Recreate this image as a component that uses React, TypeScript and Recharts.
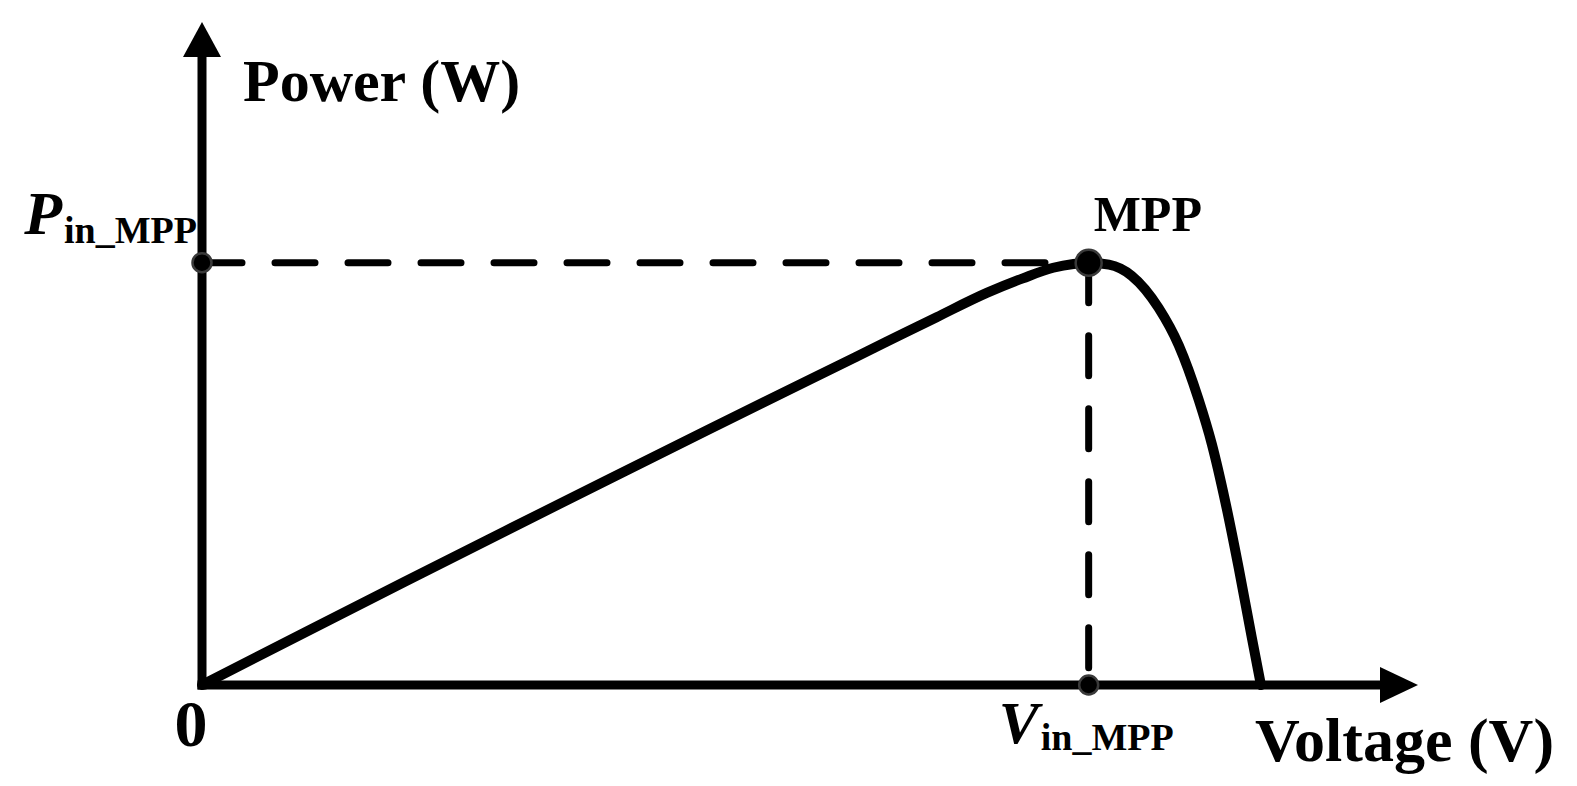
import React from 'react';
import { ComposedChart, Line, XAxis, YAxis, ReferenceLine, ReferenceDot } from 'recharts';

// P-V curve of the PV source (voltage in V, power in W)
const voltage = [0, 2, 4, 6, 8, 10, 12, 13.5, 14.5, 15.5, 16.2, 16.8, 17.2, 17.5, 17.9, 18.35, 18.88, 19.28, 19.67, 19.93, 20.2, 20.46, 20.72, 20.9];
const power = [0, 12.26, 24.44, 36.54, 48.56, 60.5, 72.36, 81.2, 87.1, 92.9, 96.3, 98.8, 99.7, 100, 99.55, 96.9, 89.3, 80.4, 67.6, 57.1, 43.2, 27.8, 11.2, 0];

const V_MPP = 17.5;
const P_MPP = 100;
const X_MAX = 24; // arrow tip of the voltage axis
const Y_MAX = 157; // arrow tip of the power axis
const X_AXIS_END = 23.25;
const Y_AXIS_END = 148.7;

const xLabel = 'Voltage (V)';
const yLabel = 'Power (W)';
const mppLabel = 'MPP';
const originLabel = '0';
const pLabelMain = 'P';
const vLabelMain = 'V';
const subLabel = 'in_MPP';

const data = voltage.map((v, i) => ({ v, p: power[i] }));

const FONT = '"Liberation Serif", "Times New Roman", Times, serif';

const ArrowRight = (props: any) => {
  const { cx, cy } = props;
  return <polygon points={`${cx},${cy} ${cx - 38},${cy - 18} ${cx - 38},${cy + 18}`} fill="#000" />;
};
const ArrowUp = (props: any) => {
  const { cx, cy } = props;
  return <polygon points={`${cx},${cy} ${cx - 19},${cy + 35} ${cx + 19},${cy + 35}`} fill="#000" />;
};

const textAt = (content: React.ReactNode, dx: number, dy: number, size: number, anchor: string = 'start', extra: any = {}) =>
  (props: any) => (
    <text
      x={props.cx + dx}
      y={props.cy + dy}
      fontFamily={FONT}
      fontWeight="bold"
      fontSize={size}
      textAnchor={anchor as any}
      fill="#000"
      {...extra}
    >
      {content}
    </text>
  );

const subLabelText = (main: string, mainSize: number, subDy: number) => (
  <>
    <tspan fontStyle="italic" fontSize={mainSize}>{main}</tspan>
    <tspan fontSize={38} dy={subDy} dx={2}>{subLabel}</tspan>
  </>
);

export default function App() {
  return (
    <div style={{ position: 'absolute', left: 0, top: 0, width: 1577, height: 786, background: '#fff', overflow: 'hidden' }}>
      <ComposedChart
        width={1577}
        height={786}
        data={data}
        margin={{ top: 22, right: 159, bottom: 101, left: 202 }}
      >
        <XAxis type="number" dataKey="v" domain={[0, X_MAX]} hide />
        <YAxis type="number" dataKey="p" domain={[0, Y_MAX]} hide />

        {/* dashed projections of the MPP */}
        <ReferenceLine
          segment={[{ x: 0, y: P_MPP }, { x: V_MPP, y: P_MPP }]}
          stroke="#000"
          strokeWidth={7}
          strokeDasharray="40 33"
          strokeLinecap="round"
          ifOverflow="visible"
        />
        <ReferenceLine
          segment={[{ x: V_MPP, y: P_MPP }, { x: V_MPP, y: 0 }]}
          stroke="#000"
          strokeWidth={7}
          strokeDasharray="40 33"
          strokeLinecap="round"
          ifOverflow="visible"
        />

        {/* axes */}
        <ReferenceLine
          segment={[{ x: 0, y: 0 }, { x: X_AXIS_END, y: 0 }]}
          stroke="#000"
          strokeWidth={9}
          strokeLinecap="square"
          ifOverflow="visible"
        />
        <ReferenceLine
          segment={[{ x: 0, y: 0 }, { x: 0, y: Y_AXIS_END }]}
          stroke="#000"
          strokeWidth={9}
          strokeLinecap="square"
          ifOverflow="visible"
        />
        <ReferenceDot x={X_MAX} y={0} r={1} shape={ArrowRight} ifOverflow="visible" />
        <ReferenceDot x={0} y={Y_MAX} r={1} shape={ArrowUp} ifOverflow="visible" />

        <Line
          type="monotone"
          dataKey="p"
          stroke="#000"
          strokeWidth={10}
          dot={false}
          activeDot={false}
          isAnimationActive={false}
          strokeLinejoin="round"
          strokeLinecap="round"
        />

        {/* markers */}
        <ReferenceDot x={0} y={P_MPP} r={9.5} fill="#000" stroke="#3a3a3a" strokeWidth={2.5} ifOverflow="visible" />
        <ReferenceDot x={V_MPP} y={0} r={9.5} fill="#000" stroke="#3a3a3a" strokeWidth={2.5} ifOverflow="visible" />
        <ReferenceDot x={V_MPP} y={P_MPP} r={13} fill="#000" stroke="#3a3a3a" strokeWidth={2.5} ifOverflow="visible" />

        {/* texts */}
        <ReferenceDot x={0} y={Y_MAX} r={1} ifOverflow="visible" shape={textAt(yLabel, 41, 79, 60)} />
        <ReferenceDot x={X_MAX} y={0} r={1} ifOverflow="visible" shape={textAt(xLabel, -163, 76, 62)} />
        <ReferenceDot x={V_MPP} y={P_MPP} r={1} ifOverflow="visible" shape={textAt(mppLabel, 5, -32, 50)} />
        <ReferenceDot x={0} y={0} r={1} ifOverflow="visible" shape={textAt(originLabel, -11, 61, 66, 'middle')} />
        <ReferenceDot x={0} y={P_MPP} r={1} ifOverflow="visible" shape={textAt(subLabelText(pLabelMain, 62, 9), -5, -29, 50, 'end')} />
        <ReferenceDot x={V_MPP} y={0} r={1} ifOverflow="visible" shape={textAt(subLabelText(vLabelMain, 60, 7), -90, 58, 50)} />
      </ComposedChart>
    </div>
  );
}
